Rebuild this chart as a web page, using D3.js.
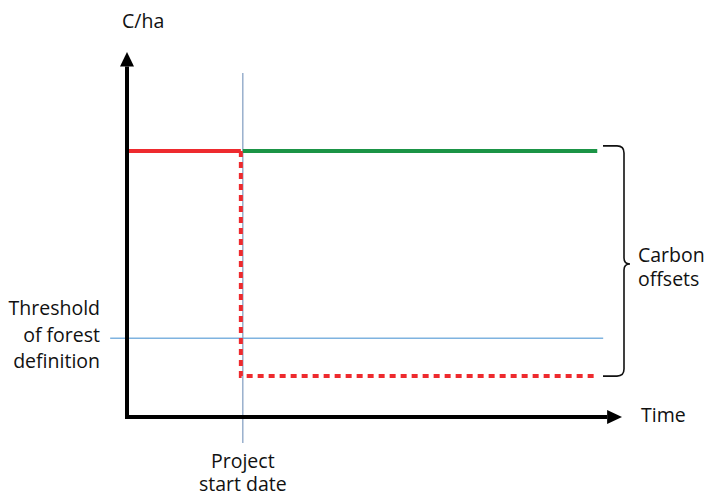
<!DOCTYPE html>
<html><head><meta charset="utf-8">
<script src="https://cdn.jsdelivr.net/npm/d3@7"></script>
<style>body{margin:0;background:#fff}text{font-family:"Open Sans",sans-serif;fill:#111}</style>
</head><body><svg id="c" width="708" height="499"></svg>
<script>
// Time (arbitrary units) and carbon stock (arbitrary units)
const projectStart = 23.4;
const timeEnd = 95;
const baselineBefore = [{t:0, c:72.9},{t:23.0, c:72.9}];
const baselineAfter = [{t:23.0, c:72.9},{t:23.0, c:11.2},{t:95, c:11.2}];
const projectSeries = [{t:23.4, c:72.9},{t:95, c:72.9}];
const threshold = 21.6;
const thresholdRange = [-3.4, 96.2];
const labels = {y:"C/ha", x:"Time", threshold:["Threshold","of forest","definition"], start:["Project","start date"], offsets:["Carbon","offsets"]};

const svg = d3.select("#c");
const x = d3.scaleLinear().domain([0,100]).range([127,622]);
const y = d3.scaleLinear().domain([0,100]).range([417,52]);
const line = d3.line().x(d=>x(d.t)).y(d=>y(d.c));

// threshold line
svg.append("line").attr("x1",x(thresholdRange[0])).attr("x2",x(thresholdRange[1]))
  .attr("y1",y(threshold)).attr("y2",y(threshold)).attr("stroke","#7fb3e0").attr("stroke-width",1.5);
// project start line
svg.append("line").attr("x1",x(projectStart)).attr("x2",x(projectStart))
  .attr("y1",73).attr("y2",443).attr("stroke","#7f9cc0").attr("stroke-width",1.2);

// red solid
svg.append("path").attr("d",line(baselineBefore)).attr("fill","none").attr("stroke","#ee2a2e").attr("stroke-width",4);
// red dashed
svg.append("path").attr("d",line(baselineAfter)).attr("fill","none").attr("stroke","#ee2a2e").attr("stroke-width",4)
  .attr("stroke-dasharray","6,5");
// green
svg.append("path").attr("d",line(projectSeries)).attr("fill","none").attr("stroke","#1b9446").attr("stroke-width",4);

// axes
svg.append("line").attr("x1",x(0)).attr("x2",x(0)).attr("y1",y(0)+2).attr("y2",y(96)).attr("stroke","#000").attr("stroke-width",4);
svg.append("path").attr("d",`M${x(0)},${y(100)} L${x(0)-7},${y(96)} L${x(0)+7},${y(96)} Z`).attr("fill","#000");
svg.append("line").attr("x1",x(0)-2).attr("x2",x(97)).attr("y1",y(0)).attr("y2",y(0)).attr("stroke","#000").attr("stroke-width",4);
svg.append("path").attr("d",`M${x(100)},${y(0)} L${x(97)},${y(0)-7} L${x(97)},${y(0)+7} Z`).attr("fill","#000");

// brace
const bx = 603, bTop = y(72.9)-5, bBot = y(11.2), bMid = (bTop+bBot)/2+3;
svg.append("path").attr("fill","none").attr("stroke","#111").attr("stroke-width",1.6)
  .attr("d",`M${bx},${bTop} L${bx+14},${bTop} Q${bx+21},${bTop} ${bx+21},${bTop+7} L${bx+21},${bMid-6} Q${bx+21},${bMid} ${bx+27},${bMid} Q${bx+21},${bMid} ${bx+21},${bMid+6} L${bx+21},${bBot-7} Q${bx+21},${bBot} ${bx+14},${bBot} L${bx},${bBot}`);

// texts
const fs = 19.5;
svg.append("text").attr("x",122).attr("y",28).attr("font-size",fs).text(labels.y);
svg.append("text").attr("x",641).attr("y",422).attr("font-size",fs).text(labels.x);
labels.threshold.forEach((t,i)=>svg.append("text").attr("x",100).attr("y",315+i*26.5).attr("text-anchor","end").attr("font-size",fs).text(t));
labels.start.forEach((t,i)=>svg.append("text").attr("x",x(projectStart)).attr("y",468+i*23).attr("text-anchor","middle").attr("font-size",fs).text(t));
labels.offsets.forEach((t,i)=>svg.append("text").attr("x",638).attr("y",262+i*23.5).attr("font-size",fs).text(t));
</script></body></html>
